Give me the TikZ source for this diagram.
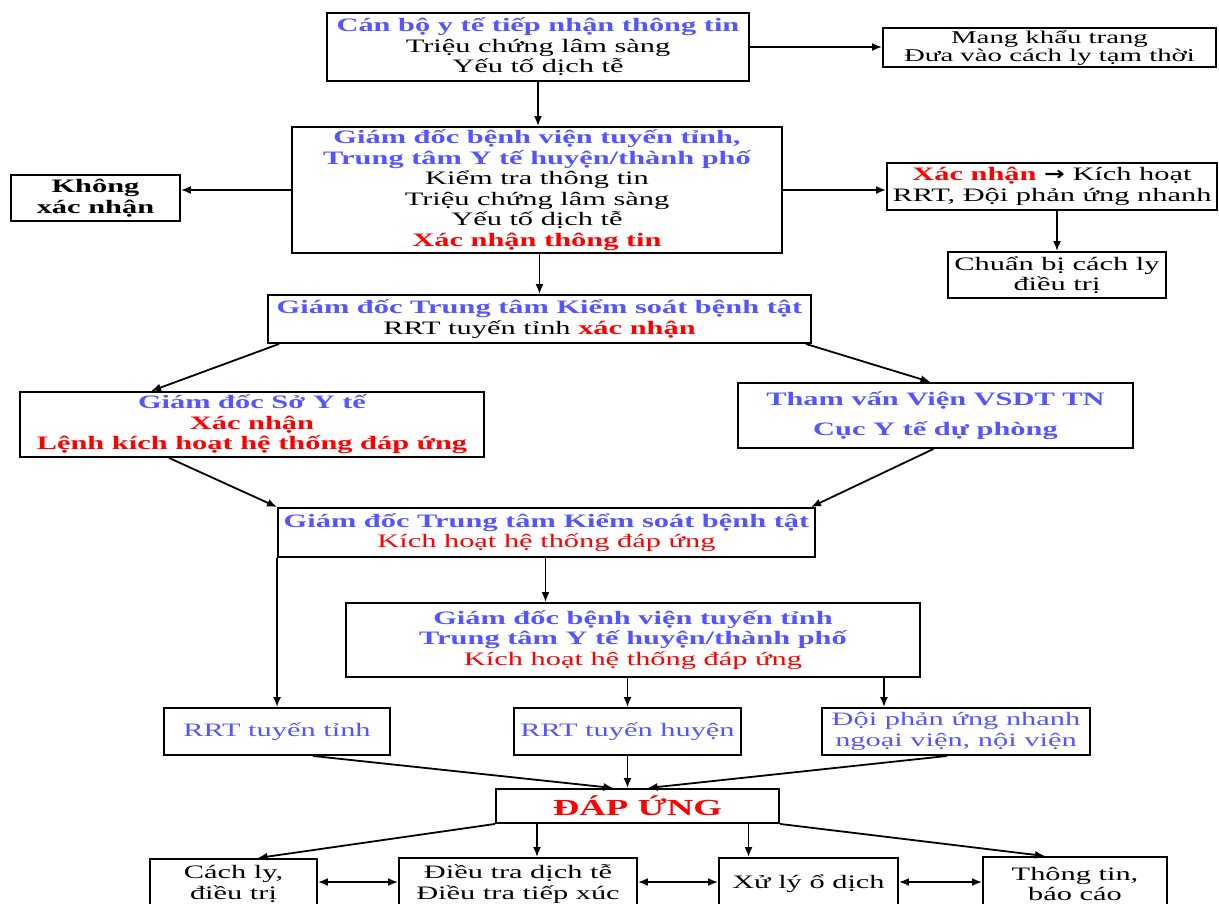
\documentclass[tikz,border=0pt]{standalone}
\usepackage{fontspec}
\setmainfont{Liberation Serif}[FakeStretch=1.6]
\newfontfamily\arrowfont{DejaVu Sans}[FakeStretch=1.3]
\usetikzlibrary{arrows.meta}
\definecolor{tblue}{RGB}{85,85,255}
\definecolor{tred}{RGB}{255,0,0}
\newcommand\tb[1]{{\bfseries\color{tblue}#1}}
\newcommand\tred[1]{{\bfseries\color{tred}#1}}
\newcommand\tbl[1]{{\color{tblue}#1}}
\begin{document}
\begin{tikzpicture}[x=1pt,y=-1pt,
  box/.style={draw, line width=1.9pt, inner sep=0pt, align=center,
    font=\fontsize{19}{20.5}\selectfont, text=black},
  arr/.style={line width=1.8pt, -{Latex[length=10pt,width=8pt]}},
  darr/.style={line width=1.8pt, {Latex[length=10pt,width=8pt]}-{Latex[length=10pt,width=8pt]}}]
\useasboundingbox (0,0) rectangle (1219,903);
\fill[white] (0,0) rectangle (1219,903);

% boxes
\node[box, minimum width=422pt, minimum height=68pt] (top) at (538,47)
  {\tb{Cán bộ y tế tiếp nhận thông tin}\\Triệu chứng lâm sàng\\Yếu tố dịch tễ};
\node[box, minimum width=333pt, minimum height=39pt, font=\fontsize{18}{18}\selectfont] (mang) at (1049.5,47.5)
  {Mang khẩu trang\\Đưa vào cách ly tạm thời};
\node[box, minimum width=490pt, minimum height=126pt] (gdbv) at (537,190)
  {\tb{Giám đốc bệnh viện tuyến tỉnh,}\\\tb{Trung tâm Y tế huyện/thành phố}\\Kiểm tra thông tin\\Triệu chứng lâm sàng\\Yếu tố dịch tễ\\\tred{Xác nhận thông tin}};
\node[box, minimum width=169pt, minimum height=46pt] (khong) at (95.5,198)
  {\textbf{Không}\\\textbf{xác nhận}};
\node[box, minimum width=330pt, minimum height=47pt] (xacnhan) at (1052,186.5)
  {\tred{Xác nhận} {\arrowfont\bfseries →} Kích hoạt\\RRT, Đội phản ứng nhanh};
\node[box, minimum width=218pt, minimum height=46pt] (chuanbi) at (1057,275)
  {Chuẩn bị cách ly\\điều trị};
\node[box, minimum width=543pt, minimum height=48pt] (ttk1) at (539.5,319)
  {\tb{Giám đốc Trung tâm Kiểm soát bệnh tật}\\RRT tuyến tỉnh \tred{xác nhận}};
\node[box, minimum width=464pt, minimum height=65pt] (so) at (252,424.5)
  {\tb{Giám đốc Sở Y tế}\\\tred{Xác nhận}\\\tred{Lệnh kích hoạt hệ thống đáp ứng}};
\node[box, minimum width=395pt, minimum height=65pt] (thamvan) at (935.5,415.5)
  {\tb{Tham vấn Viện VSDT TN}\\[9pt]\tb{Cục Y tế dự phòng}};
\node[box, minimum width=537pt, minimum height=49pt] (ttk2) at (546.5,532.5)
  {\tb{Giám đốc Trung tâm Kiểm soát bệnh tật}\\{\color{tred}Kích hoạt hệ thống đáp ứng}};
\node[box, minimum width=574pt, minimum height=74pt] (gdbv2) at (633,640)
  {\tb{Giám đốc bệnh viện tuyến tỉnh}\\\tb{Trung tâm Y tế huyện/thành phố}\\{\color{tred}Kích hoạt hệ thống đáp ứng}};
\node[box, minimum width=226pt, minimum height=47pt] (rrt1) at (277,731.5)
  {\tbl{RRT tuyến tỉnh}};
\node[box, minimum width=227pt, minimum height=47pt] (rrt2) at (627.5,731.5)
  {\tbl{RRT tuyến huyện}};
\node[box, minimum width=268pt, minimum height=47pt] (doi) at (956,731.5)
  {\tbl{Đội phản ứng nhanh}\\\tbl{ngoại viện, nội viện}};
\node[box, minimum width=283pt, minimum height=34pt, font=\fontsize{23}{24}\selectfont] (dap) at (637.5,806)
  {\tred{ĐÁP ỨNG}};
\node[box, minimum width=167pt, minimum height=50pt] (cach) at (233.5,884)
  {Cách ly,\\điều trị};
\node[box, minimum width=238pt, minimum height=52pt] (dieutra) at (518,884)
  {Điều tra dịch tễ\\Điều tra tiếp xúc};
\node[box, minimum width=179pt, minimum height=52pt] (xuly) at (808.5,884)
  {Xử lý ổ dịch};
\node[box, minimum width=184pt, minimum height=54pt] (thongtin) at (1075,884)
  {Thông tin,\\báo cáo};

% connectors
\draw[arr] (top.east) -- (top.east -| mang.west);
\draw[arr] (top.south) -- (top.south |- gdbv.north);
\draw[arr] (gdbv.west) -- (gdbv.west -| khong.east);
\draw[arr] (gdbv.east) -- (gdbv.east -| xacnhan.west);
\draw[arr] (chuanbi.north |- xacnhan.south) -- (chuanbi.north);
\draw[arr] (ttk1.north |- gdbv.south) -- (ttk1.north);
\draw[arr] ([xshift=12pt]ttk1.south west) -- ([xshift=132pt]so.north west);
\draw[arr] ([xshift=-6pt]ttk1.south east) -- ([xshift=-5pt]thamvan.north);
\draw[arr] ([xshift=150pt]so.south west) -- (ttk2.north west);
\draw[arr] ([xshift=-2pt]thamvan.south) -- ([xshift=-5pt]ttk2.north east);
\draw[arr] ([xshift=-1pt]ttk2.south) -- ([xshift=-1pt]ttk2.south |- gdbv2.north);
\draw[arr] (ttk2.south west) -- (ttk2.south west |- rrt1.north);
\draw[arr] (rrt2.north |- gdbv2.south) -- (rrt2.north);
\draw[arr] ([xshift=-37pt]gdbv2.south east) -- ([xshift=-37pt]gdbv2.south east |- doi.north);
\draw[arr] ([xshift=36pt]rrt1.south) -- ([xshift=-24pt]dap.north);
\draw[arr] (rrt2.south) -- (rrt2.south |- dap.north);
\draw[arr] ([xshift=-9pt]doi.south) -- ([xshift=10pt]dap.north);
\draw[arr] (dap.south west) -- ([xshift=24pt]cach.north);
\draw[arr] ([xshift=19pt]dieutra.north |- dap.south) -- ([xshift=19pt]dieutra.north);
\draw[arr] ([xshift=-60pt]xuly.north |- dap.south) -- ([xshift=-60pt]xuly.north);
\draw[arr] (dap.south east) -- ([xshift=-30pt]thongtin.north);
\draw[darr] ([yshift=2pt]cach.east) -- ([yshift=2pt]cach.east -| dieutra.west);
\draw[darr] ([yshift=2pt]dieutra.east) -- ([yshift=2pt]dieutra.east -| xuly.west);
\draw[darr] ([yshift=2pt]xuly.east) -- ([yshift=2pt]xuly.east -| thongtin.west);
\end{tikzpicture}
\end{document}
